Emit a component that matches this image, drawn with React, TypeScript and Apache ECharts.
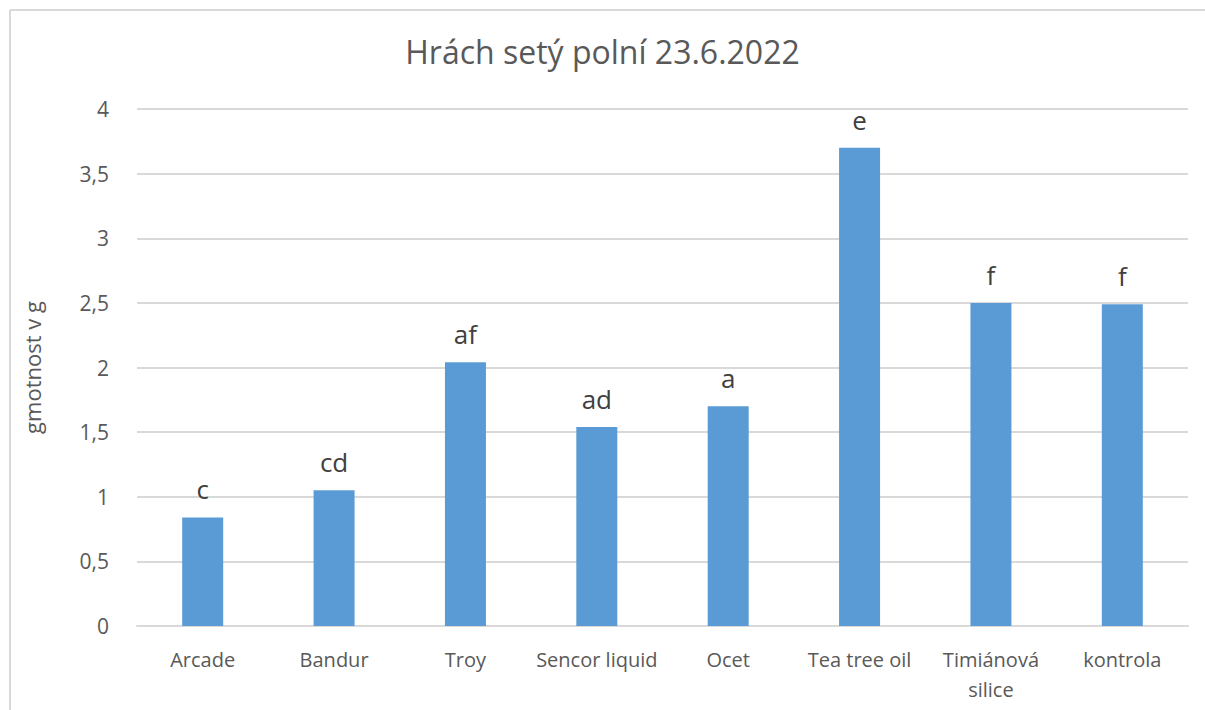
import React, { useEffect, useRef } from "react";
import * as echarts from "echarts";

const titleText = "Hrách setý polní 23.6.2022";
const yAxisName = "gmotnost v g";
const categories = ["Arcade", "Bandur", "Troy", "Sencor liquid", "Ocet", "Tea tree oil", "Timiánová\nsilice", "kontrola"];
const values = [0.84, 1.05, 2.04, 1.54, 1.7, 3.7, 2.5, 2.49];
const letters = ["c", "cd", "af", "ad", "a", "e", "f", "f"];

const FONT = "'Open Sans', 'Noto Sans', sans-serif";

export default function App() {
  const ref = useRef<HTMLDivElement>(null);
  useEffect(() => {
    document.body.style.margin = "0";
    if (!ref.current) return;
    const chart = echarts.init(ref.current, undefined, { renderer: "svg" });
    chart.setOption({
      animation: false,
      backgroundColor: "#ffffff",
      textStyle: { fontFamily: FONT },
      title: {
        text: titleText,
        left: "center",
        top: 30,
        textStyle: { fontFamily: FONT, fontSize: 32, fontWeight: "normal", color: "#595959" },
      },
      graphic: [
        { type: "line", shape: { x1: 10, y1: 10, x2: 1205, y2: 10 }, style: { stroke: "#d9d9d9", lineWidth: 2 } },
        { type: "line", shape: { x1: 10, y1: 10, x2: 10, y2: 710 }, style: { stroke: "#d9d9d9", lineWidth: 2 } },
      ],
      grid: { left: 137, right: 17, top: 109, bottom: 84, containLabel: false },
      xAxis: {
        type: "category",
        data: categories,
        axisLine: { show: true, lineStyle: { color: "#d9d9d9", width: 2 } },
        axisTick: { show: false },
        axisLabel: {
          interval: 0,
          color: "#595959",
          fontSize: 20,
          fontFamily: FONT,
          margin: 18,
          lineHeight: 30,
        },
      },
      yAxis: {
        type: "value",
        min: 0,
        max: 4,
        interval: 0.5,
        name: yAxisName,
        nameLocation: "middle",
        nameGap: 94,
        nameTextStyle: { color: "#595959", fontSize: 22, fontFamily: FONT },
        axisLine: { show: false },
        axisTick: { show: false },
        splitLine: { lineStyle: { color: "#d9d9d9", width: 2 } },
        axisLabel: {
          color: "#595959",
          fontSize: 21,
          fontFamily: FONT,
          margin: 28,
          formatter: (v: number) => String(v).replace(".", ","),
        },
      },
      series: [
        {
          type: "bar",
          data: values,
          barWidth: 41,
          itemStyle: { color: "#5b9bd5" },
          label: {
            show: true,
            position: "top",
            distance: 15,
            color: "#404040",
            fontSize: 26,
            fontFamily: FONT,
            formatter: (p: any) => letters[p.dataIndex],
          },
        },
      ],
    });
    return () => chart.dispose();
  }, []);
  return <div ref={ref} style={{ width: 1205, height: 710 }} />;
}
